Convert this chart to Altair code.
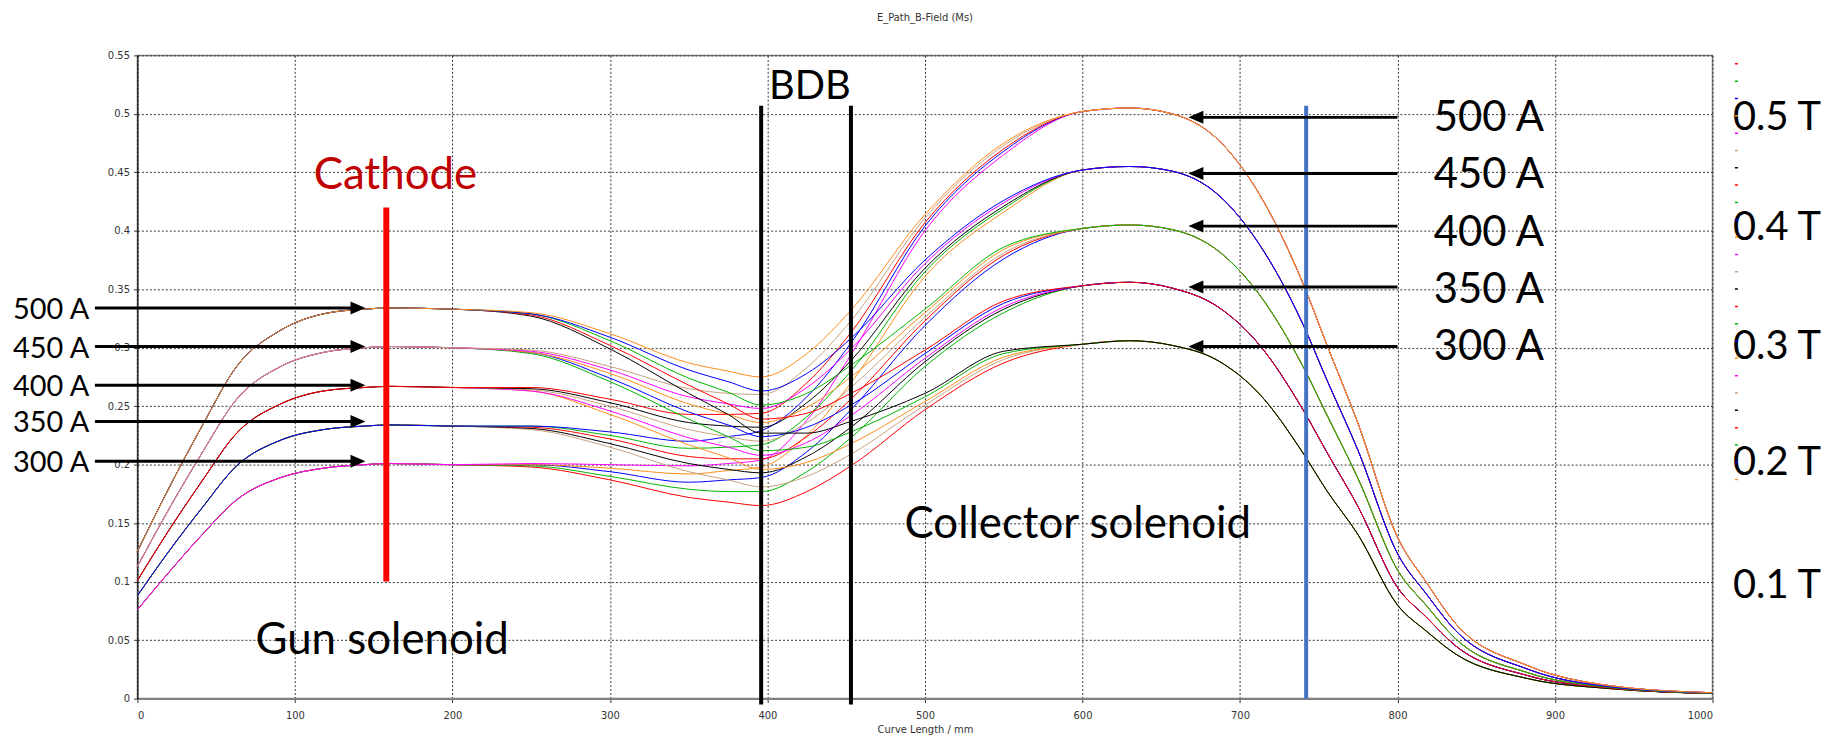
import altair as alt
import pandas as pd

# ---------------- data ----------------
gun_currents = [300, 350, 400, 450, 500]
coll_currents = [300, 350, 400, 450, 500]

# gun-solenoid part (same for every collector current)
x_left = [0, 20, 41, 63, 91, 118, 144, 160, 200]
b_left = {
    300: [0.076, 0.108, 0.140, 0.170, 0.189, 0.197, 0.200, 0.201, 0.200],
    350: [0.088, 0.126, 0.163, 0.199, 0.221, 0.230, 0.233, 0.234, 0.233],
    400: [0.101, 0.144, 0.186, 0.227, 0.252, 0.263, 0.266, 0.267, 0.266],
    450: [0.113, 0.162, 0.210, 0.256, 0.284, 0.296, 0.300, 0.301, 0.300],
    500: [0.126, 0.180, 0.233, 0.284, 0.315, 0.329, 0.333, 0.334, 0.333],
}

# transition region through the BDB (one list per gun / collector pair)
x_mid = [250, 300, 350, 375, 396, 425, 453, 500, 550]
b_mid = {
    (300, 300): [0.198, 0.187, 0.172, 0.168, 0.165, 0.177, 0.199, 0.247, 0.287],
    (300, 350): [0.199, 0.190, 0.179, 0.177, 0.177, 0.194, 0.223, 0.284, 0.330],
    (300, 400): [0.200, 0.194, 0.185, 0.187, 0.189, 0.211, 0.247, 0.319, 0.376],
    (300, 450): [0.200, 0.197, 0.192, 0.195, 0.198, 0.225, 0.270, 0.361, 0.416],
    (300, 500): [0.201, 0.200, 0.199, 0.201, 0.204, 0.238, 0.294, 0.400, 0.465],
    (350, 300): [0.230, 0.215, 0.194, 0.187, 0.181, 0.190, 0.209, 0.251, 0.290],
    (350, 350): [0.231, 0.218, 0.201, 0.196, 0.193, 0.207, 0.232, 0.288, 0.333],
    (350, 400): [0.232, 0.222, 0.207, 0.205, 0.205, 0.224, 0.256, 0.323, 0.379],
    (350, 450): [0.233, 0.225, 0.214, 0.215, 0.217, 0.241, 0.280, 0.365, 0.419],
    (350, 500): [0.233, 0.228, 0.220, 0.224, 0.229, 0.258, 0.304, 0.404, 0.468],
    (400, 300): [0.263, 0.243, 0.217, 0.206, 0.196, 0.202, 0.218, 0.254, 0.292],
    (400, 350): [0.263, 0.246, 0.223, 0.215, 0.208, 0.219, 0.242, 0.291, 0.335],
    (400, 400): [0.264, 0.250, 0.230, 0.224, 0.220, 0.236, 0.266, 0.326, 0.381],
    (400, 450): [0.265, 0.253, 0.236, 0.233, 0.232, 0.253, 0.289, 0.368, 0.421],
    (400, 500): [0.266, 0.256, 0.243, 0.243, 0.244, 0.270, 0.313, 0.407, 0.470],
    (450, 300): [0.295, 0.271, 0.239, 0.224, 0.212, 0.215, 0.228, 0.258, 0.295],
    (450, 350): [0.296, 0.274, 0.245, 0.234, 0.224, 0.232, 0.251, 0.295, 0.338],
    (450, 400): [0.296, 0.278, 0.252, 0.243, 0.236, 0.249, 0.275, 0.330, 0.384],
    (450, 450): [0.297, 0.281, 0.258, 0.252, 0.248, 0.266, 0.299, 0.372, 0.424],
    (450, 500): [0.298, 0.284, 0.265, 0.261, 0.260, 0.283, 0.323, 0.411, 0.473],
    (500, 300): [0.327, 0.299, 0.261, 0.243, 0.227, 0.227, 0.237, 0.261, 0.297],
    (500, 350): [0.328, 0.302, 0.268, 0.252, 0.239, 0.244, 0.261, 0.298, 0.340],
    (500, 400): [0.329, 0.306, 0.274, 0.262, 0.251, 0.261, 0.285, 0.333, 0.386],
    (500, 450): [0.329, 0.309, 0.281, 0.271, 0.263, 0.278, 0.308, 0.375, 0.426],
    (500, 500): [0.330, 0.312, 0.287, 0.280, 0.275, 0.295, 0.332, 0.414, 0.475],
}

# collector-solenoid part (same for every gun current)
x_right = [600, 630, 657, 686, 712, 740, 755, 775, 800, 818, 837, 883, 935, 1000]
b_right = {
    300: [0.303, 0.306, 0.302, 0.289, 0.261, 0.210, 0.178, 0.140, 0.080, 0.058, 0.038, 0.017, 0.0085, 0.0043],
    350: [0.353, 0.356, 0.351, 0.335, 0.303, 0.247, 0.211, 0.164, 0.095, 0.070, 0.045, 0.0195, 0.009, 0.0044],
    400: [0.402, 0.405, 0.401, 0.383, 0.346, 0.284, 0.243, 0.188, 0.110, 0.080, 0.051, 0.022, 0.0095, 0.0045],
    450: [0.452, 0.455, 0.451, 0.431, 0.389, 0.320, 0.273, 0.212, 0.124, 0.090, 0.058, 0.025, 0.010, 0.0048],
    500: [0.502, 0.505, 0.500, 0.478, 0.432, 0.355, 0.303, 0.235, 0.138, 0.100, 0.064, 0.028, 0.011, 0.005],
}

# annotations
current_labels = ["500 A", "450 A", "400 A", "350 A", "300 A"]
left_arrow_B = [0.334, 0.301, 0.268, 0.237, 0.203]
right_arrow_B = [0.497, 0.449, 0.404, 0.352, 0.301]
right_label_B = [0.498, 0.449, 0.400, 0.351, 0.302]
tesla_labels = ["0.5 T", "0.4 T", "0.3 T", "0.2 T", "0.1 T"]
tesla_B = [0.498, 0.404, 0.302, 0.203, 0.098]
cathode_x = 158
bdb_x = [396, 453]
blue_x = 742

y_ticks = [0, 0.05, 0.1, 0.15, 0.2, 0.25, 0.3, 0.35, 0.4, 0.45, 0.5, 0.55]
x_ticks = [0, 100, 200, 300, 400, 500, 600, 700, 800, 900, 1000]

palette = ["#FF0000", "#00B400", "#0000FF", "#FF8C1A", "#FF00FF", "#C8A07C", "#000000"]

# ---------------- tables ----------------
rows = []
series = []
for g in gun_currents:
    for c in coll_currents:
        name = f"Gun {g} A / Coll {c} A"
        series.append(name)
        xs = x_left + x_mid + x_right
        bs = b_left[g] + b_mid[(g, c)] + b_right[c]
        for xv, bv in zip(xs, bs):
            rows.append({"series": name, "x": xv, "B": bv})
df = pd.DataFrame(rows)
colors = [palette[i % len(palette)] for i in range(len(series))]

X = alt.X("x:Q", scale=alt.Scale(domain=[0, 1000], nice=False, zero=False),
          axis=alt.Axis(values=x_ticks, title="Curve Length / mm", format="d"))
Y = alt.Y("B:Q", scale=alt.Scale(domain=[0, 0.55], nice=False),
          axis=alt.Axis(values=y_ticks, title=None, format="~g"))

lines = alt.Chart(df).mark_line(strokeWidth=1, interpolate="monotone").encode(
    x=X, y=Y,
    color=alt.Color("series:N", scale=alt.Scale(domain=series, range=colors),
                    legend=alt.Legend(orient="none", legendX=1601, legendY=3, title=None,
                                      symbolType="stroke", symbolSize=9, symbolStrokeWidth=1.5,
                                      labelExpr="''", clipHeight=11, rowPadding=6.4,
                                      columns=1, padding=0, symbolLimit=30)),
)

xq = alt.X("x:Q")
yq = alt.Y("B:Q")

cathode_df = pd.DataFrame({"x": [cathode_x], "B": [0.1], "B2": [0.42]})
cathode = alt.Chart(cathode_df).mark_rule(color="#FF0000", strokeWidth=6).encode(x=xq, y=yq, y2="B2:Q")

bdb_df = pd.DataFrame({"x": bdb_x, "B": [-0.005, -0.005], "B2": [0.507, 0.507]})
bdb = alt.Chart(bdb_df).mark_rule(color="#000000", strokeWidth=4).encode(x=xq, y=yq, y2="B2:Q")

blue_df = pd.DataFrame({"x": [blue_x], "B": [0.0], "B2": [0.507]})
blue = alt.Chart(blue_df).mark_rule(color="#4472C4", strokeWidth=4).encode(x=xq, y=yq, y2="B2:Q")

la_df = pd.DataFrame({"x": [-27] * 5, "x2": [140] * 5, "B": left_arrow_B})
left_shafts = alt.Chart(la_df).mark_rule(color="#000000", strokeWidth=3).encode(x=xq, x2="x2:Q", y=yq)
left_heads = alt.Chart(la_df).mark_point(shape="M -1 -0.87 L 1 0 L -1 0.87 Z", filled=True, size=225,
                                         color="#000000", opacity=1, strokeWidth=0).encode(x="x2:Q", y=yq)

ra_df = pd.DataFrame({"x": [800] * 5, "x2": [672] * 5, "B": right_arrow_B})
right_shafts = alt.Chart(ra_df).mark_rule(color="#000000", strokeWidth=3).encode(x=xq, x2="x2:Q", y=yq)
right_heads = alt.Chart(ra_df).mark_point(shape="M 1 -0.87 L -1 0 L 1 0.87 Z", filled=True, size=225,
                                          color="#000000", opacity=1, strokeWidth=0).encode(x="x2:Q", y=yq)

left_lab_df = pd.DataFrame({"x": [-79] * 5, "B": left_arrow_B, "label": current_labels})
left_labels = alt.Chart(left_lab_df).mark_text(font="Lato", fontSize=29, align="left", baseline="middle",
                                               dy=2, color="#000000").encode(x=xq, y=yq, text="label:N")

right_lab_df = pd.DataFrame({"x": [823] * 5, "B": right_label_B, "label": current_labels})
right_labels = alt.Chart(right_lab_df).mark_text(font="Lato", fontSize=42, align="left", baseline="middle",
                                                 dy=2, color="#000000").encode(x=xq, y=yq, text="label:N")

tesla_df = pd.DataFrame({"x": [1013] * 5, "B": tesla_B, "label": tesla_labels})
tesla = alt.Chart(tesla_df).mark_text(font="Lato", fontSize=40, align="left", baseline="middle",
                                      dy=2, color="#000000").encode(x=xq, y=yq, text="label:N")

words_df = pd.DataFrame({
    "x": [487, 75],
    "B": [0.137, 0.038],
    "label": ["Collector solenoid", "Gun solenoid"],
})
words = alt.Chart(words_df).mark_text(font="Lato", fontSize=44, align="left", baseline="alphabetic",
                                      color="#000000").encode(x=xq, y=yq, text="label:N")

bdb_txt_df = pd.DataFrame({"x": [401], "B": [0.513], "label": ["BDB"]})
bdb_txt = alt.Chart(bdb_txt_df).mark_text(font="Lato", fontSize=40, align="left", baseline="alphabetic",
                                          color="#000000").encode(x=xq, y=yq, text="label:N")

cath_txt_df = pd.DataFrame({"x": [112], "B": [0.436], "label": ["Cathode"]})
cath_txt = alt.Chart(cath_txt_df).mark_text(font="Lato", fontSize=44, align="left", baseline="alphabetic",
                                            color="#C00000").encode(x=xq, y=yq, text="label:N")

title_df = pd.DataFrame({"label": ["E_Path_B-Field (Ms)"]})
title_txt = alt.Chart(title_df).mark_text(font="DejaVu Sans", fontSize=10, align="center",
                                          baseline="alphabetic", color="#333333").encode(
    x=alt.value(791), y=alt.value(-35), text="label:N")

chart = alt.layer(
    lines, cathode, bdb, blue, left_shafts, left_heads, right_shafts, right_heads,
    left_labels, right_labels, tesla, words, bdb_txt, cath_txt, title_txt,
).properties(
    width=1582, height=646,
    padding={"left": 130, "top": 46, "right": 117, "bottom": 36},
    autosize=alt.AutoSizeParams(type="none"),
).configure_view(
    stroke="#808080", strokeWidth=1.5,
).configure_axis(
    labelFont="DejaVu Sans", labelFontSize=10, labelColor="#333333",
    titleFont="DejaVu Sans", titleFontSize=10, titleColor="#333333", titleFontWeight="normal",
    gridColor="#333333", gridDash=[2, 2], gridWidth=1, gridOpacity=1,
    tickSize=4, tickColor="#333333", labelPadding=4,
).configure_axisX(
    domainColor="#808080", domainWidth=2, titlePadding=4, labelPadding=8,
).configure_axisY(
    domainColor="#000000", domainWidth=1,
)

chart.save("out.html", embed_options={"renderer": "svg", "actions": False})
